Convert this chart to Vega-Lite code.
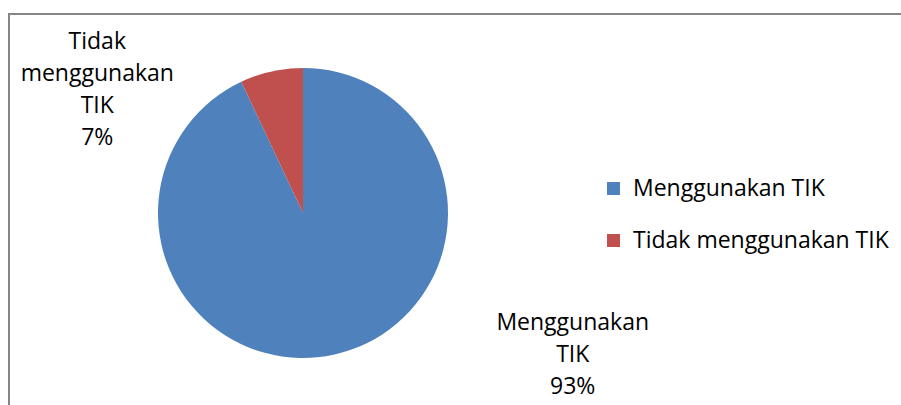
{
  "$schema": "https://vega.github.io/schema/vega-lite/v6.json",
  "autosize": "none",
  "width": 900,
  "height": 400,
  "padding": {"left": 9, "top": 14, "right": 0, "bottom": 0},
  "background": "white",
  "view": {"stroke": "#868686", "strokeWidth": 2, "fill": "white"},
  "config": {
    "view": {"stroke": "#868686", "strokeWidth": 2},
    "font": "Open Sans"
  },
  "data": {
    "values": [
      {"kategori": "Menggunakan TIK", "persen": 93, "baris": ["Menggunakan", "TIK", "93%"]},
      {"kategori": "Tidak menggunakan TIK", "persen": 7, "baris": ["Tidak", "menggunakan", "TIK", "7%"]}
    ]
  },
  "layer": [
    {
      "mark": {"type": "arc", "x": 294, "y": 199, "outerRadius": 145},
      "encoding": {
        "theta": {"field": "persen", "type": "quantitative", "stack": true},
        "color": {
          "field": "kategori",
          "type": "nominal",
          "scale": {"domain": ["Menggunakan TIK", "Tidak menggunakan TIK"], "range": ["#4F81BD", "#C0504D"]},
          "legend": {
            "title": null,
            "orient": "none",
            "legendX": 593,
            "legendY": 163,
            "symbolType": "square",
            "symbolSize": 169,
            "symbolStrokeWidth": 0,
            "labelFont": "Open Sans",
            "labelFontSize": 23,
            "labelColor": "#000000",
            "labelOffset": 8,
            "rowPadding": 28,
            "padding": 0,
            "labelLimit": 400
          }
        },
        "order": {"field": "kategori", "sort": "ascending"}
      }
    },
    {
      "mark": {"type": "text", "x": 294, "y": 199, "radius": 150, "dx": -173, "dy": -25, "fontSize": 23, "lineHeight": 32, "align": "center", "baseline": "middle", "color": "#000000", "font": "Open Sans"},
      "encoding": {
        "theta": {"field": "persen", "type": "quantitative", "stack": true},
        "order": {"field": "kategori", "sort": "ascending"},
        "text": {"condition": {"test": "datum.kategori === 'Tidak menggunakan TIK'", "field": "baris"}, "value": ""}
      }
    },
    {
      "mark": {"type": "text", "x": 294, "y": 199, "radius": 150, "dx": 237, "dy": -36, "fontSize": 23, "lineHeight": 32, "align": "center", "baseline": "middle", "color": "#000000", "font": "Open Sans"},
      "encoding": {
        "theta": {"field": "persen", "type": "quantitative", "stack": true},
        "order": {"field": "kategori", "sort": "ascending"},
        "text": {"condition": {"test": "datum.kategori === 'Menggunakan TIK'", "field": "baris"}, "value": ""}
      }
    }
  ]
}
